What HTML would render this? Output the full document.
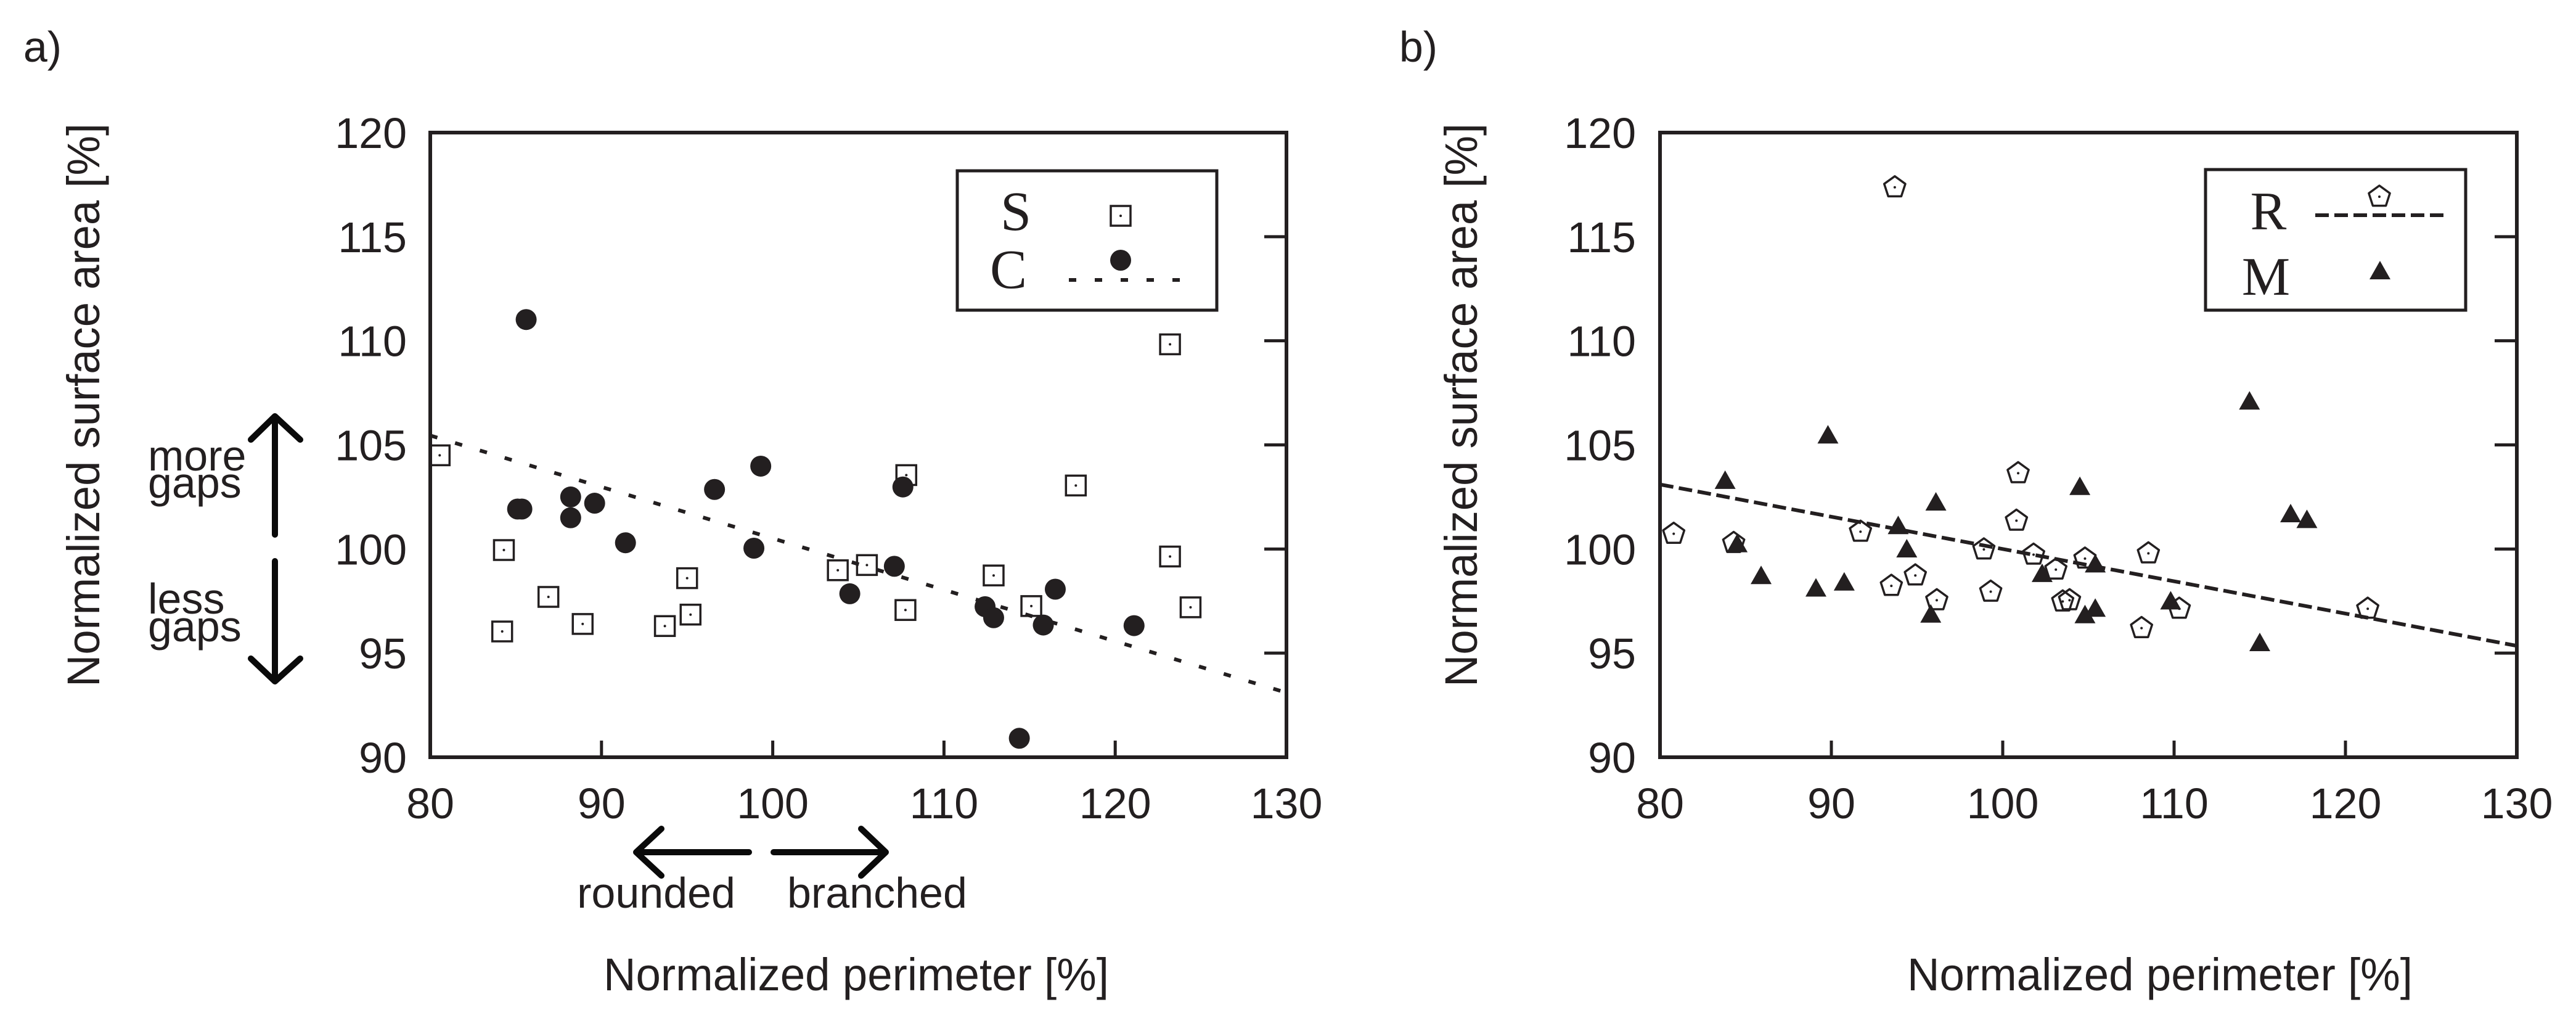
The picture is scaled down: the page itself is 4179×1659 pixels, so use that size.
<!DOCTYPE html>
<html><head><meta charset="utf-8"><style>
html,body{margin:0;padding:0;background:#fff;}
svg{display:block;}
text{font-family:"Liberation Sans",sans-serif;fill:#231f20;}
.serif{font-family:"Liberation Serif",serif;}
</style></head><body>
<svg id="fig" width="4179" height="1659" viewBox="0 0 4179 1659" xmlns="http://www.w3.org/2000/svg">
<text x="69" y="100" font-size="70" text-anchor="middle">a)</text>
<text x="2301" y="100" font-size="70" text-anchor="middle">b)</text>
<g id="pa"></g>
<g id="pb"></g>
<g stroke="#0a0a0a" stroke-width="10" stroke-linecap="round" stroke-linejoin="round" fill="none">
<path d="M446 867 L446 677 M407 713 L446 675 L487 713"/>
<path d="M446 910 L446 1103 M407 1068 L446 1105 L487 1068"/>
<path d="M1215 1382 L1034 1382 M1073 1344 L1032 1382 L1073 1420"/>
<path d="M1255 1382 L1435 1382 M1397 1344 L1437 1382 L1397 1420"/>
</g>
<text x="240" y="763" font-size="70">more</text>
<text x="240" y="807" font-size="70">gaps</text>
<text x="240" y="995" font-size="70">less</text>
<text x="240" y="1040" font-size="70">gaps</text>
<text x="1193" y="1472" font-size="70" text-anchor="end">rounded</text>
<text x="1277" y="1472" font-size="70">branched</text>
</svg>
<script>
// Panel a data
const sX = [80.55,84.3,84.2,86.9,88.9,93.7,95.0,95.2,103.8,105.5,107.8,107.75,112.9,115.1,117.7,123.2,123.2,124.4];
const sY = [104.5,99.95,96.04,97.7,96.4,96.3,98.6,96.85,98.98,99.23,103.55,97.07,98.73,97.26,103.05,109.83,99.64,97.2];
const cX = [85.6,85.1,85.35,88.2,88.2,89.6,91.4,96.6,98.9,99.3,104.5,107.1,107.6,112.4,112.9,114.4,115.8,116.5,121.1];
const cY = [111.02,101.92,101.92,102.5,101.5,102.2,100.3,102.86,100.04,103.98,97.85,99.17,102.98,97.23,96.7,90.91,96.35,98.07,96.32];
const cFitX = [80,130];
const cFitY = [105.45,93.1];
// Panel b data
const rX = [80.8,84.3,91.7,93.7,93.5,94.9,96.15,98.9,99.3,100.8,100.9,101.8,103.1,103.5,103.9,104.8,108.1,108.5,110.3,121.3];
const rY = [100.73,100.29,100.83,117.37,98.23,98.73,97.54,99.98,97.95,101.36,103.64,99.73,99.01,97.48,97.54,99.54,96.2,99.79,97.13,97.13];
const mX = [83.8,84.5,85.9,89.1,89.8,90.75,93.9,94.4,95.8,96.1,102.3,104.5,104.8,105.4,105.4,109.8,114.4,115.0,116.8,117.75];
const mY = [103.27,100.23,98.7,98.1,105.45,98.39,101.1,99.98,96.85,102.23,98.8,102.98,96.82,99.26,97.13,97.48,107.08,95.48,101.67,101.39];
const rFitX = [80,130];
const rFitY = [103.1,95.35];
const xTicks = [80,90,100,110,120,130];
const yTicks = [90,95,100,105,110,115,120];

const NS = "http://www.w3.org/2000/svg";
function mk(tag, attrs, parent){const e=document.createElementNS(NS,tag);for(const k in attrs)e.setAttribute(k,attrs[k]);parent.appendChild(e);return e;}

function panel(g, L, R, T, B, ylabRight, yTitleX, xTitleX){
  const sx = v => L + (v-80)/(130-80)*(R-L);
  const sy = v => B - (v-90)/(120-90)*(B-T);
  const frame = mk('rect',{x:L,y:T,width:R-L,height:B-T,fill:'none',stroke:'#231f20','stroke-width':6},g);
  
  
  xTicks.forEach(t=>{
    const x=sx(t);
    if(t>80&&t<130){const l=mk('line',{x1:x,y1:B,x2:x,y2:B-27,stroke:'#231f20','stroke-width':5},g);
      
      }
    const tx=mk('text',{x:x,y:1327,'font-size':70,'text-anchor':'middle'},g);tx.textContent=t;
    
    
  });
  yTicks.forEach(t=>{
    const y=sy(t);
    if(t>90&&t<120){const l=mk('line',{x1:R,y1:y,x2:R-36,y2:y,stroke:'#231f20','stroke-width':5},g);
      
      }
    const tx=mk('text',{x:ylabRight,y:y+25,'font-size':70,'text-anchor':'end'},g);tx.textContent=t;
    
    
  });
  const xt=mk('text',{x:xTitleX,y:1606,'font-size':74,'text-anchor':'middle',textLength:820,lengthAdjust:'spacingAndGlyphs'},g);
  xt.textContent='Normalized perimeter [%]';
  
  
  const yt=mk('text',{x:0,y:0,'font-size':74,'text-anchor':'middle',textLength:914,lengthAdjust:'spacingAndGlyphs',transform:`translate(${yTitleX+26},657) rotate(-90)`},g);
  yt.textContent='Normalized surface area [%]';
  
  
  return {sx,sy};
}

function square(g,x,y){const s=mk('g',{},g);
  mk('rect',{x:x-16,y:y-16,width:32,height:32,fill:'none',stroke:'#231f20','stroke-width':3.5},s);
  mk('circle',{cx:x,cy:y,r:2,fill:'#231f20'},s);return s;}
function pent(g,x,y){const s=mk('g',{},g);let p=[];
  for(let i=0;i<5;i++){const a=-Math.PI/2+i*2*Math.PI/5;p.push((x+18*Math.cos(a)).toFixed(1)+','+(y+18*Math.sin(a)).toFixed(1));}
  mk('polygon',{points:p.join(' '),fill:'none',stroke:'#231f20','stroke-width':3.5,'stroke-linejoin':'round'},s);
  mk('circle',{cx:x,cy:y,r:2,fill:'#231f20'},s);return s;}
function tri(g,x,y){return mk('polygon',{points:`${x-17},${y+13} ${x+17},${y+13} ${x},${y-17}`,fill:'#231f20'},g);}

// Panel a
const ga=document.getElementById('pa');
const A=panel(ga,698,2087,215,1228,660,135,1389);
const fa=mk('line',{x1:A.sx(cFitX[0]),y1:A.sy(cFitY[0]),x2:A.sx(cFitX[1]),y2:A.sy(cFitY[1]),stroke:'#231f20','stroke-width':6,'stroke-dasharray':'12 30'},ga);


sX.forEach((v,i)=>{const m=square(ga,A.sx(v),A.sy(sY[i]));
  
  });
cX.forEach((v,i)=>{const m=mk('circle',{cx:A.sx(v),cy:A.sy(cY[i]),r:17,fill:'#231f20'},ga);
  
  });
// legend a
const la=mk('g',{},ga);


mk('rect',{x:1553,y:277,width:421,height:226,fill:'#fff',stroke:'#231f20','stroke-width':5},la);
let t=mk('text',{x:1648,y:373,'font-size':90,'text-anchor':'middle',class:'serif'},la);t.textContent='S';


t=mk('text',{x:1636,y:467,'font-size':90,'text-anchor':'middle',class:'serif'},la);t.textContent='C';


square(la,1818,350);
mk('circle',{cx:1818,cy:422,r:17,fill:'#231f20'},la);
mk('line',{x1:1734,y1:454,x2:1920,y2:454,stroke:'#231f20','stroke-width':6,'stroke-dasharray':'12 30'},la);

// Panel b
const gb=document.getElementById('pb');
const Bp=panel(gb,2693,4083,215,1228,2654,2370,3504);
const fb=mk('line',{x1:Bp.sx(rFitX[0]),y1:Bp.sy(rFitY[0]),x2:Bp.sx(rFitX[1]),y2:Bp.sy(rFitY[1]),stroke:'#231f20','stroke-width':6,'stroke-dasharray':'22 9'},gb);


rX.forEach((v,i)=>{const m=pent(gb,Bp.sx(v),Bp.sy(rY[i]));
  
  });
mX.forEach((v,i)=>{const m=tri(gb,Bp.sx(v),Bp.sy(mY[i]));
  
  });
const lb=mk('g',{},gb);


mk('rect',{x:3578,y:275,width:422,height:228,fill:'#fff',stroke:'#231f20','stroke-width':5},lb);
t=mk('text',{x:3680,y:372,'font-size':88,'text-anchor':'middle',class:'serif'},lb);t.textContent='R';


t=mk('text',{x:3676,y:478,'font-size':88,'text-anchor':'middle',class:'serif'},lb);t.textContent='M';


pent(lb,3860,319);
mk('line',{x1:3756,y1:349,x2:3966,y2:349,stroke:'#231f20','stroke-width':6,'stroke-dasharray':'22 9'},lb);
tri(lb,3861,440);
</script>
</body></html>
